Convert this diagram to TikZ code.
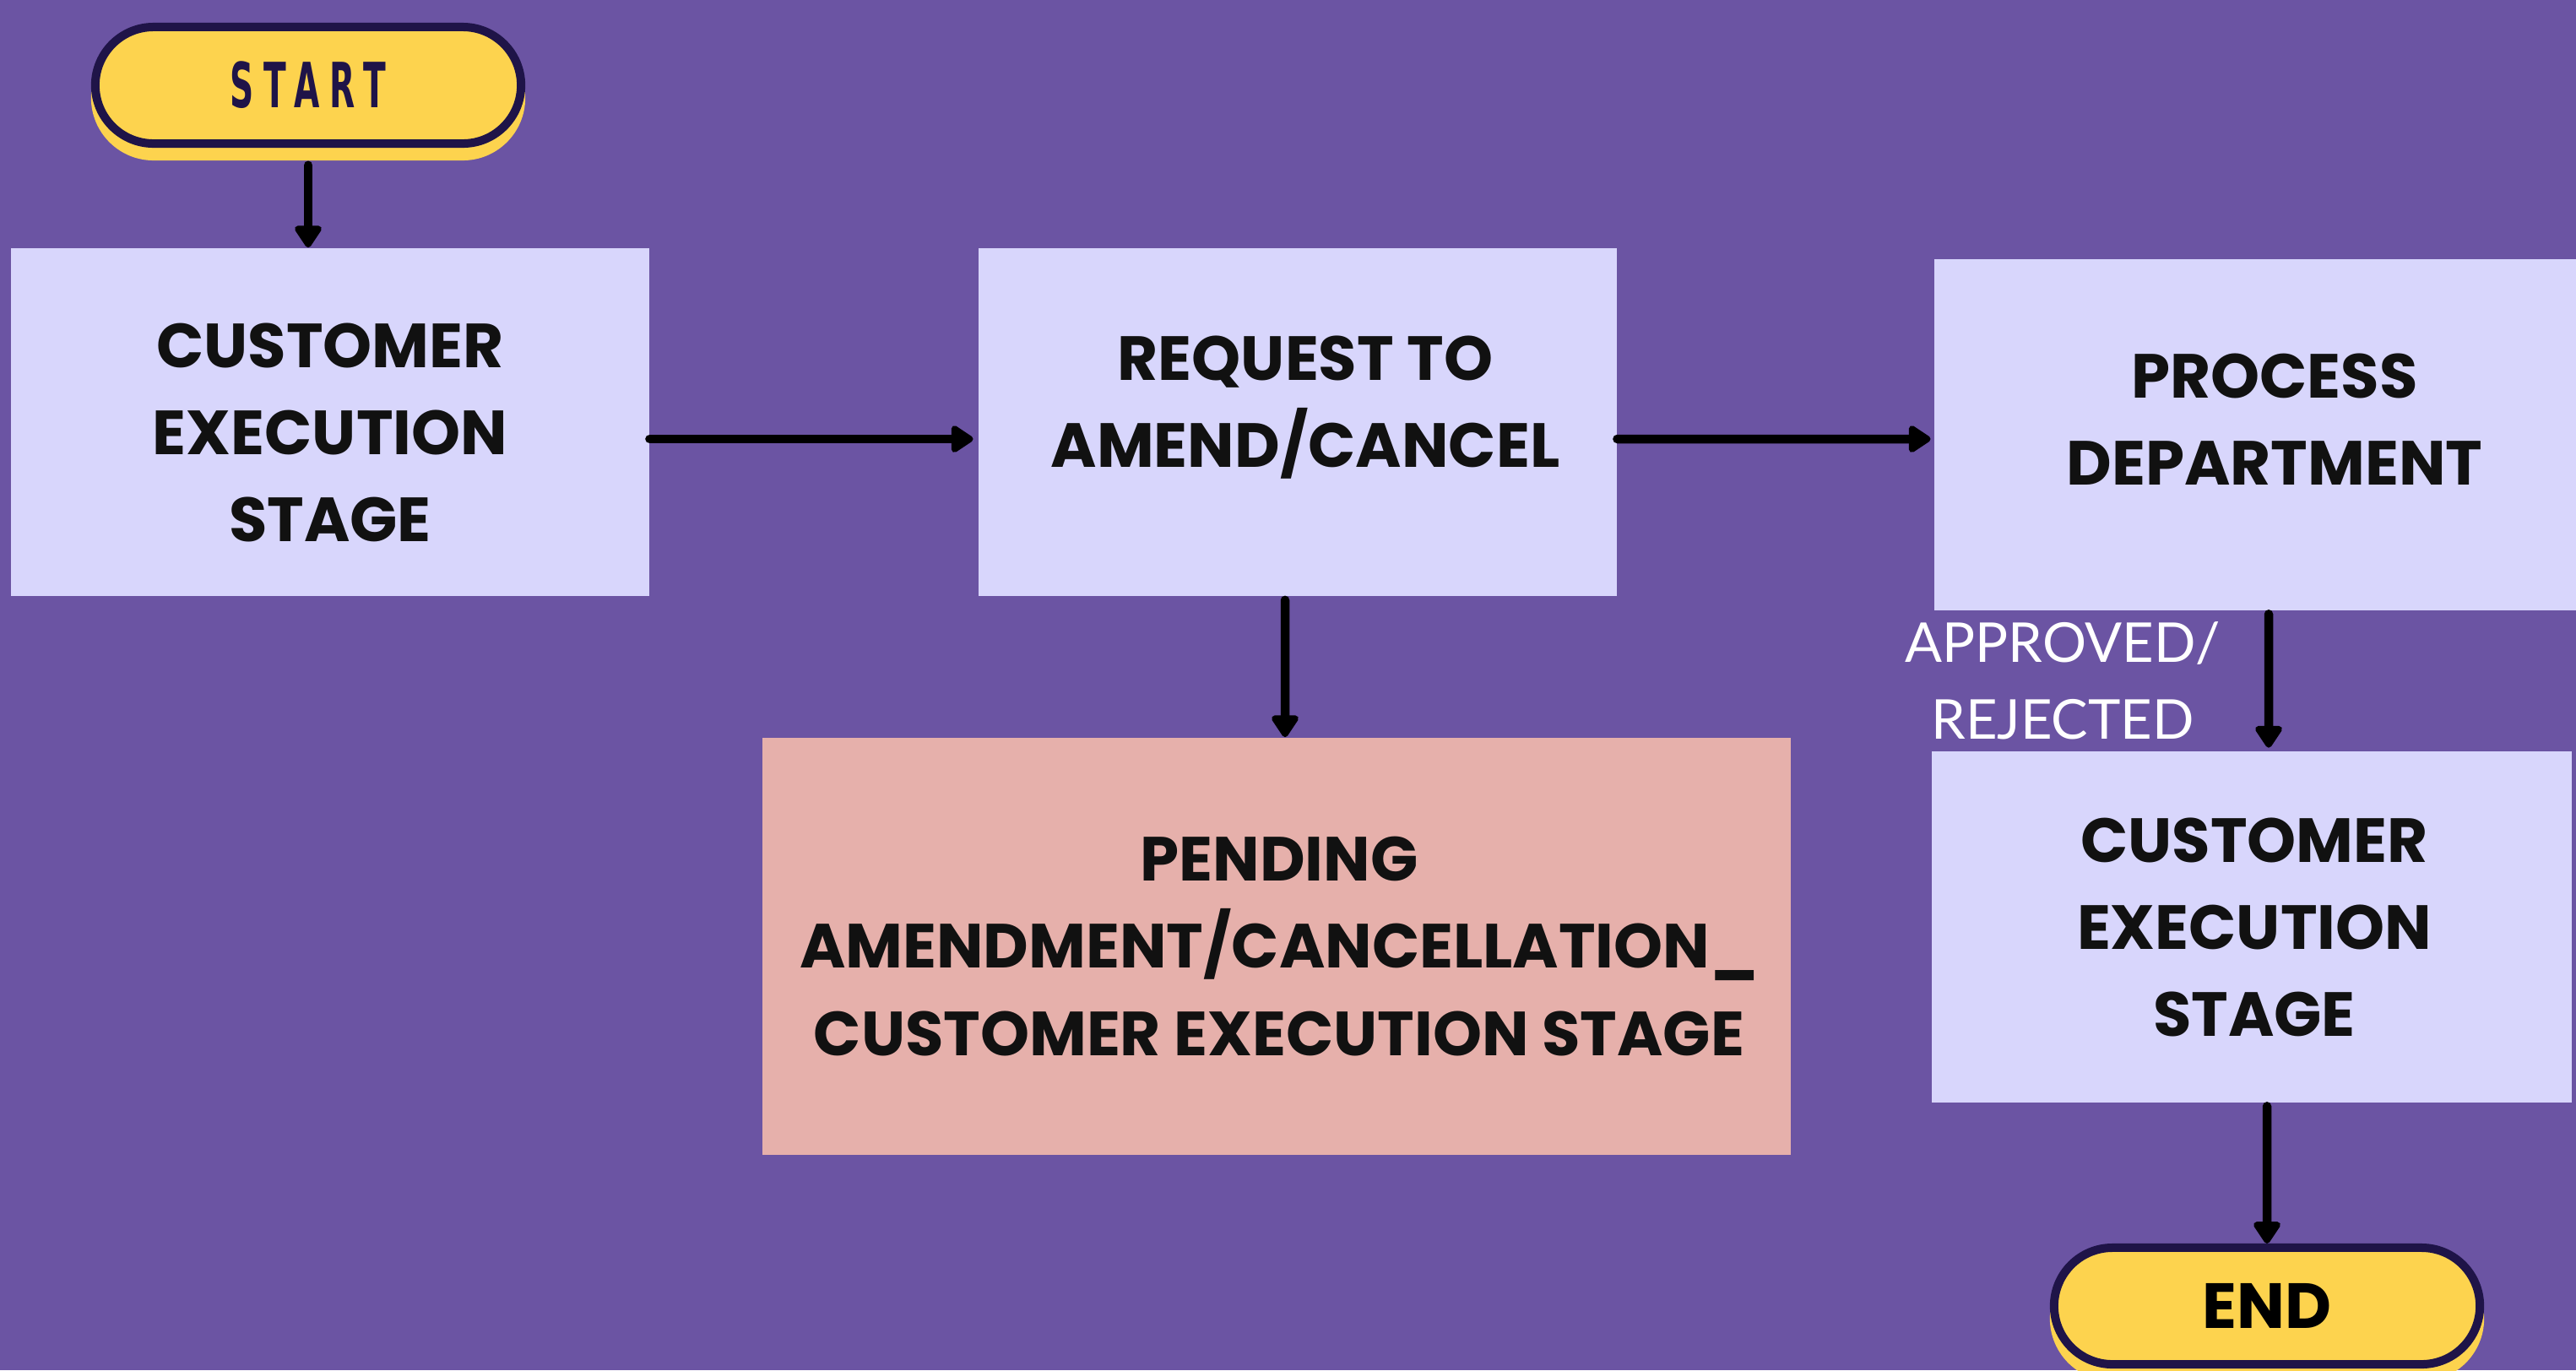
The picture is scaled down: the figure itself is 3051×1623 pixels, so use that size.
\documentclass[tikz,border=0pt]{standalone}
\usepackage{fontspec}
\usepackage{graphicx}
\usetikzlibrary{arrows.meta,calc}
\setmainfont{Poppins}
\newfontfamily\lblfont{Lato}
\newfontfamily\startfont{DejaVu Sans}[LetterSpace=30]
\definecolor{bgc}{HTML}{6B54A3}
\definecolor{boxc}{HTML}{D8D6FC}
\definecolor{pinkc}{HTML}{E6B0AB}
\definecolor{yelc}{HTML}{FDD34E}
\definecolor{navyc}{HTML}{1F1448}
\definecolor{inkc}{HTML}{111111}
\tikzset{
  stagebox/.style={fill=boxc, minimum width=7.55cm, minimum height=4.12cm, inner sep=0pt},
  stagetext/.style={inner sep=0pt, align=center, text=inkc,
    font=\fontsize{21}{29.3}\selectfont\bfseries},
  pill/.style={fill=yelc, draw=navyc, line width=0.1cm, rounded corners=0.69cm,
    minimum width=5.04cm, minimum height=1.38cm, inner sep=0pt},
  pillshadow/.style={fill=yelc, rounded corners=0.74cm, minimum width=5.14cm,
    minimum height=1.48cm, inner sep=0pt},
  arr/.style={draw=black, line width=0.105cm, line cap=round,
    -{Triangle[width=0.36cm,length=0.29cm,round]}},
  lbl/.style={text=white, align=center, font=\lblfont\fontsize{18.5}{26}\selectfont}
}
\begin{document}
\begin{tikzpicture}[x=0.01cm,y=-0.01cm]
\fill[bgc] (0,0) rectangle (3051,1623);
\useasboundingbox (0,0) rectangle (3051,1623);
% START
\node[pillshadow] (sS) at (365,116) {};
\node[pill, font=\startfont\bfseries\fontsize{21}{21}\selectfont, text=navyc] (start) at (365,101) {\scalebox{0.53}[1]{START}};
% boxes
\node[stagebox, label={[stagetext, yshift=-0.12cm]center:CUSTOMER\\EXECUTION\\STAGE}] (b1) at (391,500) {};
\node[stagebox, label={[stagetext, xshift=0.09cm, yshift=0.17cm]center:REQUEST TO\\AMEND/CANCEL}] (b2) at (1537,500) {};
\node[stagebox, minimum width=7.59cm, minimum height=4.15cm,
  label={[stagetext, xshift=0.23cm, yshift=0.18cm]center:PROCESS\\DEPARTMENT}] (b3) at (2671,515) {};
\node[stagebox, minimum width=7.57cm, minimum height=4.15cm,
  label={[stagetext, xshift=0.03cm]center:CUSTOMER\\EXECUTION\\STAGE}] (b4) at (2667,1098) {};
\node[stagebox, fill=pinkc, minimum width=12.18cm, minimum height=4.94cm,
  label={[stagetext, xshift=0.03cm]center:PENDING\\AMENDMENT/CANCELLATION\_\\CUSTOMER EXECUTION STAGE}] (b5) at (1512,1121) {};
% END
\node[pillshadow] (eS) at (2685,1562) {};
\node[pill, font=\fontsize{21.5}{21.5}\selectfont\bfseries, text=black] (endp) at (2685,1547) {END};
% connectors
\draw[arr] ([yshift=-0.05cm]sS.south) -- (sS |- b1.north);
\draw[arr, shorten >=0.06cm] ([yshift=-0.2cm]b1.east) -- ([yshift=-0.2cm]b2.west);
\draw[arr, shorten >=0.04cm] ([yshift=-0.2cm]b2.east) -- ([yshift=-0.05cm]b3.west);
\draw[arr, shorten <=0.04cm] ([xshift=-0.15cm]b2.south) -- ([xshift=0.1cm]b5.north);
\draw[arr, shorten <=0.04cm, shorten >=0.04cm] ([xshift=0.16cm]b3.south) -- node[lbl, midway, xshift=-2.44cm] (lab) {APPROVED/\\REJECTED} ([xshift=0.2cm]b4.north);
\draw[arr, shorten <=0.04cm] ([xshift=0.18cm]b4.south) -- (endp.north);
\end{tikzpicture}
\end{document}
